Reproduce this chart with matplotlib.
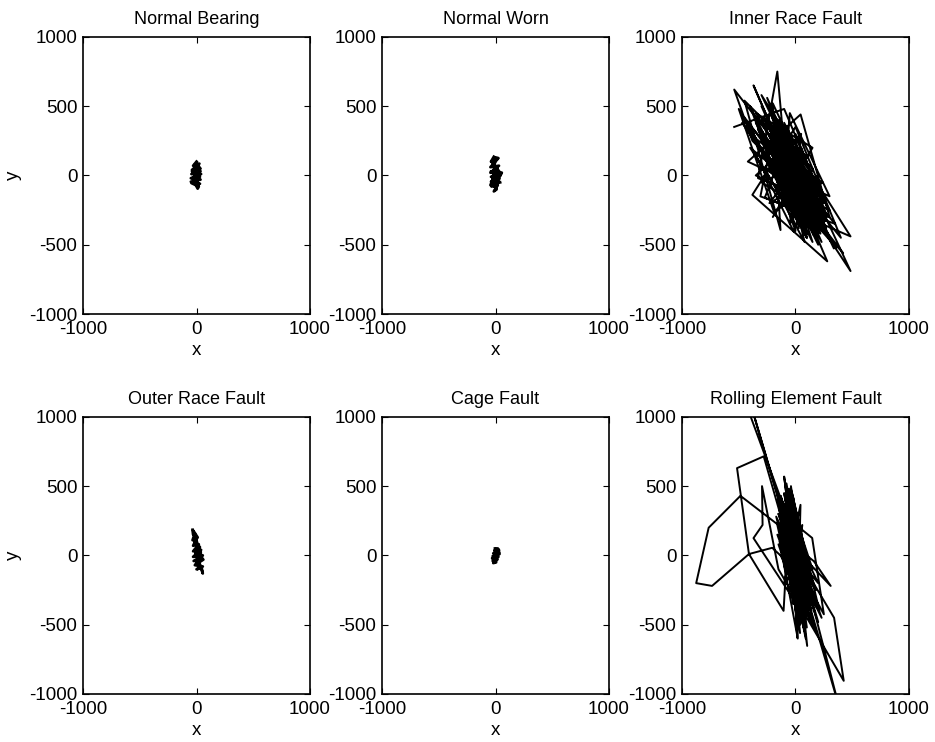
import matplotlib
matplotlib.use("Agg")
import matplotlib.pyplot as plt

plt.rcParams['font.family'] = ['Liberation Sans', 'DejaVu Sans']
plt.rcParams['axes.unicode_minus'] = False

# orbit data (x, y in same units as axes)
titles = ['Normal Bearing', 'Normal Worn', 'Inner Race Fault',
          'Outer Race Fault', 'Cage Fault', 'Rolling Element Fault']

nb_x = [0, -30, 25, -40, 35, -45, 40, -50, 35, -50, 30, -45, 20, 10,
        -25, 30, -40, 25, 0, -20, 15, -35, 35, -10]
nb_y = [100, 70, 85, 40, 50, 10, 10, -20, -30, -45, -60, -55, -80, -95,
        -40, -10, 30, 60, 90, 20, -70, -20, 30, 80]

nw_x = [-15, -40, 20, -45, 30, -45, 55, -40, 45, -40, 30, -35, 20, -15,
        10, -30, 35, -40, 50, -35, 25, 0, -25, 15, -45, 40]
nw_y = [135, 100, 120, 60, 70, 20, 20, -10, 0, -45, -30, -80, -70, -115,
        -100, -60, -20, 30, 10, 100, 125, 130, -30, 50, -70, -50]

or_x = [-35, -30, -15, -35, 0, -30, 20, -30, 40, -30, 55, -25, 60, -15,
        55, 0, 45, 55, 20, -10, 30, -20, 10, -30, 50, -5, 35]
or_y = [185, 150, 160, 110, 120, 70, 80, 30, 40, -10, 0, -40, -30, -70,
        -80, -100, -90, -130, -40, 20, 60, 100, 130, 180, -20, -60, 20]

cg_x = [-5, 20, 30, -10, 35, -20, 25, -25, 15, -30, 5, -20, 10, 30, 0,
        -15, 20, -25, 30]
cg_y = [50, 50, 30, 35, 10, 15, -10, -5, -30, -20, -50, -55, -35, 40, 45,
        -20, 0, -40, 20]

ir_x = [-540, -100, 250, -330, -160, -50, 485, -300, 100, -420, 45, 300,
        -380, -540, 0, 338, -250, 150, -270, -100, 200, -370, 50, 485,
        -200, -132, -450, 150, -15, -350, 240, -191, -500, 100, -420, 350,
        -309, -200, 280, -380, 0, 400, -150, 200, -300, 100, -250, 300,
        -50, -100, 420, -400, 50, -200, 150, -350, 250, -250, 0, -150,
        100, -300, 200, -100, 0, -200, 150, -50, -100, 80, -80, 50, -150,
        100, -50, 0, 120, -120, 60, -30, 80, -180, 20, -60, 150, -20, 180,
        -220, 90, -160, 220, -90, 30, -130, 170, -40, 260, -260, 110,
        -280, 180, -350, 220, -200, 100, -450, 250, -300, 150, -230, 280,
        -150, 60, -400, 200, -260, 320, -180, 120, -330, 260, -120, 30,
        -220, 180, -80, 220, -280, 90, -470, 360, -150, 100, -230, 200,
        -50, 50, -350, 300, -200, 0, -400, 200, -100, 250, -270, 80,
        -130, 150, -60, -180, 130, -300, 230, -20,
        150, -120, 200, -50, 250, -150, 100, 0, 220, -100, 180, -30, 120,
        -170, 270, 20, 80, -80, 200, -20, 240, -130, 60, 160, -60, 130,
        -100, 200, 10, -200, 280, 50, 100, -60, 220, -10]
ir_y = [350, 480, -200, -20, 750, -250, -440, 580, -100, 100, 440, -300,
        250, 620, 50, -527, 560, -300, -160, 200, -420, 650, -150, -690,
        520, -394, 540, 50, -406, 150, -50, -260, 480, -450, 380, -350,
        -151, 300, -620, -140, 350, -450, 100, -100, 400, -250, 50, -150,
        450, -100, -560, 300, 0, -300, 200, 450, -400, 250, -300, 400,
        100, -50, -300, 300, -200, 150, -150, 0, 100, -80, 50, -200, 250,
        -50, -150, 200, -250, 0, 50, -250, 150, 200, -100, 100, -350, 50,
        -250, 300, -350, 350, -300, 200, -380, 100, -200, 250, -330, 380, -50,
        420, -380, 380, -260, 350, -420, 420, -350, 250, -480, 480, -420,
        300, -380, 200, -200, 150, -480, 420, -350, 330, -300, 350, -330,
        250, -450, 250, -380, 300, -300, 380, -520, -50, 150, -200, 0,
        -350, 300, 0, -250, 450, -400, 500, -500, 380, -150, 50, -480,
        250, -250, -250, 300, -150, 500, -480, -100,
        -300, 150, -400, 250, -250, 50, -450, 300, -150, -50, -350, 200,
        -200, 120, -380, 100, -420, 180, -50, -300, -320, 280, -100, -430,
        50, -280, 300, -250, -150, 200, -300, 200, -350, -150, -420, 50]

re_x = [-430, -80, 60, -100, 40, -280, -515, -410, -105, -50, 80, -120,
        -485, -765, -875, -735, -410, -205, 0, -100, 50, -370, -290, -295,
        -150, 425, 340, -60, 310, 162, -130, 250, 147, -40, 380, -380, 0,
        -130, 60, -40, 100, -150, 120, -100, 80, -60, 130, -140, 20, -80,
        100, -120, 50, -90, 110, -30, 70, -100, 90, -70, 130, -110, 40,
        -50, 100, -130, 60, -20, 120, -80, 30, -60, 103, -44, 15, 44, -100,
        80, -90, 60, -50, 90, -120, 20, -30, 110, -70, 50, -110, 70, 0,
        -150, 90, -60, 130, -170, 70, -110, 140, -160, 100, -90, 150,
        -130, 40, -70, 120, -150, 80, -40, 140, -120, 110, -100, 60,
        -20, -140, 90, -80, 130, -160, 20, -30, 110, -140, 70, -60, 130,
        -120, 50, -100, 100, -50, 120, -110, 90, -70, 60, -130, 140, -80,
        -160, 160, -110, 200, -150, 120, -40, 210, -130, 130, -60, 180,
        -100, 230, -80, 100, -140, 160, -20, 150, -60, 190, -110, 90, -30,
        170, -70, 120, -120, 200, 0, 140, -90, 80, -50, 150, -100, 180,
        -130, 60]
re_y = [1080, 300, -300, 450, -200, 715, 630, 10, -400, 400, -500, 200,
        430, 200, -200, -220, 10, 55, -100, 569, -400, 125, 220, 500,
        -100, -905, -450, 100, -220, -42, 150, -425, 126, 250, -1080, 1050,
        0, 400, -450, 500, -350, 300, -200, 200, -550, 350, -100, 100, -600,
        450, -300, 250, -150, 150, -400, 300, -250, 50, -50, -50, -300,
        350, -500, 200, -150, 0, -350, 420, -450, 100, -100, 250, -653,
        485, -593, 365, -200, 0, 120, -380, 300, -300, 380, -520, 180,
        -250, 80, -480, 280, -120, 30,
        420, -380, 480, -250, 280, -520, 360, -170, 150, -430, 300, -320,
        200, -560, 420, -120, 80, -480, 380, -280, 30, -200, -80, 220,
        -350, 330, -600, 520, -380, 220, -450, 450, -60, 150, -300, 280,
        -480, 380, -250, 120, -520, 330, -350, 0, -150, 180, -420, 420,
        -100, -20,
        450, -350, 380, -480, 300, -150, 480, -400, 200, -300, 350, -250,
        100, -450, 250, -50, 150, -520, 300, -200, 50, -380, 280, -100, 150,
        -300, -50, -450, 350, -200, 0, -400, 200, -250, 400, -100, 0, -550,
        430, -150]

orbits = [(nb_x, nb_y), (nw_x, nw_y), (ir_x, ir_y),
          (or_x, or_y), (cg_x, cg_y), (re_x, re_y)]
widths = [2.0, 2.0, 1.4, 2.0, 2.0, 1.4]

fig = plt.figure(figsize=(9.35, 7.42), dpi=100)

lefts = [0.0888, 0.4086, 0.7294]
bottoms = [0.5768, 0.0647]
w = 0.2428
h = 0.3735

for i, (x, y) in enumerate(orbits):
    row, col = divmod(i, 3)
    ax = fig.add_axes([lefts[col], bottoms[row], w, h])
    ax.plot(x, y, color='black', linewidth=widths[i])
    ax.set_xlim(-1000, 1000)
    ax.set_ylim(-1000, 1000)
    ax.set_xticks([-1000, 0, 1000])
    ax.set_yticks([-1000, -500, 0, 500, 1000])
    ax.tick_params(direction='in', top=True, right=True, length=4,
                   width=0.8, labelsize=13.5)
    ax.tick_params(axis='x', pad=5)
    ax.tick_params(axis='y', pad=4)
    for s in ax.spines.values():
        s.set_linewidth(1.2)
    ax.set_title(titles[i], fontsize=13, pad=9)
    ax.set_xlabel('x', fontsize=13.5, labelpad=3)
    if col == 0:
        ax.set_ylabel('y', fontsize=13.5, labelpad=5)

fig.savefig('out.png', dpi=100)
